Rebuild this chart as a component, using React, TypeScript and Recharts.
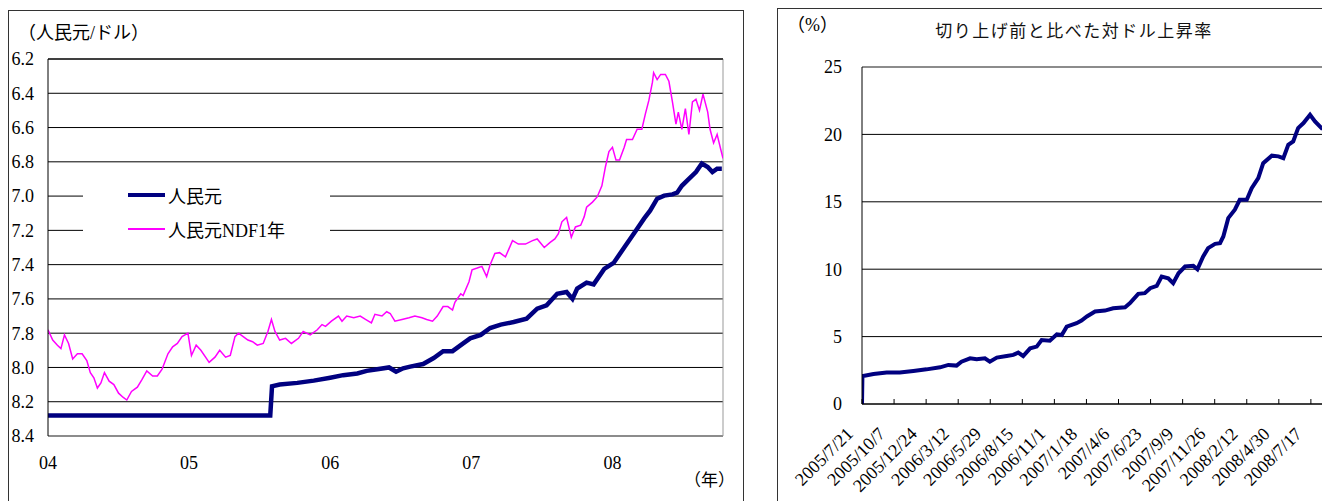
import { LineChart, Line, XAxis, YAxis, CartesianGrid, ReferenceLine } from 'recharts';

// 左グラフ：x は 2004年1月からの月数
const cnyMonth = [0, 6, 12, 18.9, 19.05, 19.7, 21.2, 22.6, 24.0, 25.1, 26.3, 27.1, 28.0, 29.0, 29.6, 30.2, 30.8, 31.9, 32.8, 33.6, 34.4, 35.1, 35.9, 36.8, 37.6, 38.5, 39.6, 40.7, 41.6, 42.4, 43.3, 44.1, 44.6, 45.0, 45.8, 46.4, 47.3, 48.1, 49.0, 49.5, 50.1, 50.7, 51.2, 51.8, 52.4, 53.1, 53.5, 53.9, 54.5, 55.1, 55.6, 56.1, 56.5, 56.9, 57.3];
const cnyRate = [8.28, 8.28, 8.28, 8.28, 8.11, 8.10, 8.09, 8.077, 8.06, 8.045, 8.035, 8.02, 8.01, 8.0, 8.025, 8.005, 7.995, 7.98, 7.945, 7.905, 7.905, 7.87, 7.83, 7.81, 7.77, 7.75, 7.735, 7.715, 7.657, 7.637, 7.57, 7.56, 7.60, 7.54, 7.505, 7.515, 7.425, 7.39, 7.30, 7.25, 7.19, 7.13, 7.085, 7.015, 6.997, 6.99, 6.98, 6.94, 6.90, 6.86, 6.81, 6.83, 6.86, 6.84, 6.84];

const ndfMonth = [0, 0.4, 0.8, 1.1, 1.4, 1.75, 2.1, 2.5, 2.9, 3.3, 3.6, 3.9, 4.2, 4.5, 4.8, 5.2, 5.6, 6.0, 6.4, 6.7, 7.1, 7.6, 8.0, 8.4, 8.9, 9.3, 9.7, 10.2, 10.6, 11.0, 11.4, 11.9, 12.2, 12.6, 13.0, 13.5, 13.7, 14.2, 14.6, 15.1, 15.5, 15.9, 16.2, 16.6, 17.0, 17.4, 17.8, 18.3, 18.7, 19.0, 19.3, 19.7, 20.2, 20.7, 21.3, 21.7, 22.3, 22.9, 23.3, 23.6, 24.1, 24.7, 25.0, 25.4, 26.0, 26.55, 27.0, 27.5, 27.8, 28.4, 28.8, 29.1, 29.5, 30.1, 30.7, 31.2, 31.8, 32.2, 32.7, 33.1, 33.6, 34.0, 34.4, 34.6, 35.1, 35.3, 35.8, 36.06, 36.5, 36.9, 37.3, 37.6, 38.0, 38.4, 38.9, 39.5, 40.0, 40.6, 41.2, 41.6, 42.2, 42.7, 43.1, 43.4, 43.7, 44.1, 44.5, 44.85, 45.3, 45.6, 45.8, 46.3, 46.7, 47.1, 47.4, 47.7, 48.0, 48.3, 48.6, 49.0, 49.2, 49.7, 50.1, 50.5, 50.8, 51.1, 51.4, 51.5, 51.8, 52.1, 52.5, 52.8, 53.1, 53.4, 53.6, 53.9, 54.2, 54.5, 54.8, 55.1, 55.4, 55.7, 56.1, 56.3, 56.6, 56.9, 57.2, 57.4];
const ndfRate = [7.78, 7.84, 7.87, 7.89, 7.81, 7.86, 7.95, 7.92, 7.92, 7.96, 8.03, 8.06, 8.12, 8.09, 8.03, 8.08, 8.10, 8.15, 8.175, 8.19, 8.14, 8.115, 8.07, 8.02, 8.05, 8.05, 8.01, 7.92, 7.88, 7.86, 7.82, 7.80, 7.93, 7.87, 7.90, 7.95, 7.97, 7.94, 7.90, 7.94, 7.93, 7.82, 7.80, 7.82, 7.84, 7.85, 7.87, 7.86, 7.79, 7.72, 7.79, 7.84, 7.83, 7.86, 7.83, 7.79, 7.81, 7.78, 7.75, 7.76, 7.73, 7.70, 7.73, 7.70, 7.71, 7.70, 7.72, 7.74, 7.69, 7.70, 7.675, 7.685, 7.73, 7.72, 7.71, 7.70, 7.71, 7.72, 7.73, 7.70, 7.645, 7.645, 7.665, 7.62, 7.57, 7.58, 7.50, 7.43, 7.42, 7.41, 7.47, 7.40, 7.335, 7.33, 7.355, 7.26, 7.28, 7.28, 7.26, 7.25, 7.30, 7.27, 7.25, 7.22, 7.15, 7.125, 7.24, 7.18, 7.17, 7.12, 7.065, 7.035, 7.005, 6.94, 6.83, 6.74, 6.715, 6.79, 6.79, 6.715, 6.67, 6.67, 6.61, 6.61, 6.52, 6.44, 6.335, 6.28, 6.32, 6.29, 6.29, 6.33, 6.45, 6.58, 6.51, 6.61, 6.49, 6.64, 6.45, 6.435, 6.50, 6.405, 6.51, 6.61, 6.69, 6.64, 6.725, 6.78];

const yearTicks = [0, 12, 24, 36, 48];
const yearLabels = ['04', '05', '06', '07', '08'];
const rateTicks = [6.2, 6.4, 6.6, 6.8, 7.0, 7.2, 7.4, 7.6, 7.8, 8.0, 8.2, 8.4];
const MONTH_MAX = 57.4;
// 上側の目盛り（ラベルなし）
const topTicks = Array.from({ length: 59 }, (_, i) => 0.34 + (i * (57.26 - 0.34)) / 58);

// 右グラフ：x は 2005/7/21 からの日数
const riseDay = [0, 1, 3, 28, 60, 92, 125, 157, 190, 210, 230, 242, 263, 279, 299, 311, 328, 352, 368, 380, 392, 409, 425, 437, 457, 474, 486, 498, 522, 534, 547, 567, 591, 611, 640, 652, 672, 688, 701, 717, 729, 745, 757, 770, 786, 806, 816, 830, 842, 859, 871, 879, 891, 907, 919, 936, 948, 964, 976, 997, 1013, 1025, 1037, 1049, 1061, 1074, 1090, 1102, 1118, 1136];
const risePct = [0, 2.08, 2.08, 2.23, 2.33, 2.33, 2.45, 2.57, 2.72, 2.90, 2.85, 3.14, 3.39, 3.32, 3.39, 3.14, 3.44, 3.56, 3.64, 3.81, 3.56, 4.13, 4.26, 4.75, 4.70, 5.17, 5.12, 5.74, 5.99, 6.19, 6.49, 6.86, 6.93, 7.10, 7.18, 7.48, 8.17, 8.22, 8.59, 8.76, 9.46, 9.33, 8.96, 9.70, 10.20, 10.25, 10.0, 10.94, 11.56, 11.88, 11.93, 12.43, 13.79, 14.41, 15.15, 15.15, 16.01, 16.76, 17.87, 18.42, 18.37, 18.24, 19.23, 19.48, 20.47, 20.84, 21.46, 20.97, 20.47, 20.7];

const dateTickDay = [0, 78, 156, 234, 312, 390, 468, 546, 624, 702, 780, 858, 936, 1014, 1092];
const dateTickLabels = ['2005/7/21', '2005/10/7', '2005/12/24', '2006/3/12', '2006/5/29', '2006/8/15', '2006/11/1', '2007/1/18', '2007/4/6', '2007/6/23', '2007/9/9', '2007/11/26', '2008/2/12', '2008/4/30', '2008/7/17'];
const pctTicks = [0, 5, 10, 15, 20, 25];
const DAY_MAX = 1175;

const cnyData = cnyMonth.map((m, i) => ({ m, v: cnyRate[i] }));
const ndfData = ndfMonth.map((m, i) => ({ m, v: ndfRate[i] }));
const riseData = riseDay.map((d, i) => ({ d, v: risePct[i] }));

const CNY_COLOR = '#000080';
const NDF_COLOR = '#ff00ff';
const SERIF = "'Liberation Serif', 'Times New Roman', 'DejaVu Serif', serif";
const SERIF_JP = "'Liberation Serif', 'Times New Roman', 'Noto Sans CJK JP', serif";
const SANS = "'Noto Sans CJK JP', sans-serif";
const tickFont = { fontSize: 18, fill: '#000', fontFamily: SERIF };

const TopTick = (props: any) => {
  const { x, y } = props;
  return <line x1={x} y1={y} x2={x} y2={y + 4} stroke="#000" strokeWidth={1} />;
};

const DateTick = (props: any) => {
  const { x, y, payload } = props;
  const idx = dateTickDay.indexOf(payload.value);
  const tx = x - 8;
  const ty = y + 31;
  return (
    <g>
      <line x1={x} y1={y} x2={x} y2={y - 5} stroke="#000" strokeWidth={1} />
      <text x={tx} y={ty} transform={`rotate(-45 ${tx} ${ty})`} textAnchor="end" fontSize={18} fill="#000" style={{ fontFamily: SERIF }}>
        {dateTickLabels[idx]}
      </text>
    </g>
  );
};

const abs = (left: number, top: number, extra: any = {}) => ({ position: 'absolute' as const, left, top, ...extra });

export default function App() {
  return (
    <div style={{ position: 'absolute', left: 0, top: 0, width: 1322, height: 501, overflow: 'hidden', background: '#fff', fontFamily: SERIF_JP, color: '#000' }}>
      {/* 左の枠 */}
      <div style={abs(8, 10, { width: 734, height: 520, border: '1px solid #333' })} />
      <div style={abs(0, 0)}>
        <LineChart width={745} height={501} margin={{ top: 49, right: 22, bottom: 25, left: 8 }}>
          <CartesianGrid xAxisId="bottom" vertical={false} stroke="#000" />
          <XAxis
            xAxisId="top"
            orientation="top"
            type="number"
            domain={[0, MONTH_MAX]}
            allowDataOverflow
            ticks={topTicks}
            interval={0}
            height={10}
            tickSize={0}
            tickMargin={0}
            tickLine={false}
            axisLine={{ stroke: '#000' }}
            tick={TopTick}
          />
          <XAxis
            xAxisId="bottom"
            dataKey="m"
            type="number"
            domain={[0, MONTH_MAX]}
            allowDataOverflow
            ticks={yearTicks}
            interval={0}
            height={40}
            tickSize={0}
            tickMargin={20}
            tickLine={false}
            axisLine={{ stroke: '#999' }}
            tickFormatter={(v: number) => yearLabels[yearTicks.indexOf(v)]}
            tick={tickFont}
          />
          <YAxis
            domain={[6.2, 8.4]}
            reversed
            ticks={rateTicks}
            interval={0}
            width={40}
            tickSize={0}
            tickMargin={14}
            tickLine={false}
            axisLine={{ stroke: '#000' }}
            tickFormatter={(v: number) => v.toFixed(1)}
            tick={tickFont}
          />
          <ReferenceLine xAxisId="bottom" x={MONTH_MAX} stroke="#999" />
          <Line xAxisId="bottom" data={ndfData} dataKey="v" stroke={NDF_COLOR} strokeWidth={1.5} dot={false} isAnimationActive={false} />
          <Line xAxisId="bottom" data={cnyData} dataKey="v" stroke={CNY_COLOR} strokeWidth={4.5} dot={false} isAnimationActive={false} />
        </LineChart>
      </div>
      <div style={abs(18, 23, { fontSize: 18, lineHeight: '20px', whiteSpace: 'nowrap' })}>（人民元/ドル）</div>
      <div style={abs(684, 471, { fontSize: 17, lineHeight: '20px', whiteSpace: 'nowrap' })}>（年）</div>
      {/* 凡例 */}
      <div style={abs(83, 178, { width: 247, height: 68, background: '#fff', fontSize: 18 })}>
        <div style={abs(45, 7, { display: 'flex', alignItems: 'center', height: 20 })}>
          <span style={{ display: 'inline-block', width: 37, height: 4, background: CNY_COLOR, marginRight: 3 }} />
          <span>人民元</span>
        </div>
        <div style={abs(45, 41, { display: 'flex', alignItems: 'center', height: 20, whiteSpace: 'nowrap' })}>
          <span style={{ display: 'inline-block', width: 37, height: 1.5, background: NDF_COLOR, marginRight: 3 }} />
          <span>人民元NDF1年</span>
        </div>
      </div>

      {/* 右の枠 */}
      <div style={abs(777, 8, { width: 700, height: 520, border: '1px solid #333' })} />
      <div style={abs(770, 0)}>
        <LineChart width={600} height={501} margin={{ top: 67, right: 25, bottom: 7, left: 32 }}>
          <CartesianGrid vertical={false} stroke="#000" />
          <XAxis
            dataKey="d"
            type="number"
            domain={[0, DAY_MAX]}
            allowDataOverflow
            ticks={dateTickDay}
            interval={0}
            height={90}
            tickSize={0}
            tickMargin={0}
            tickLine={false}
            axisLine={{ stroke: '#000' }}
            tick={DateTick}
          />
          <YAxis
            domain={[0, 25]}
            ticks={pctTicks}
            interval={0}
            width={60}
            tickSize={0}
            tickMargin={20}
            tickLine={false}
            axisLine={{ stroke: '#000' }}
            tick={tickFont}
          />
          <ReferenceLine y={25} stroke="#999" />
          <Line data={riseData} dataKey="v" stroke={CNY_COLOR} strokeWidth={4} dot={false} isAnimationActive={false} />
        </LineChart>
      </div>
      <div style={abs(787, 15, { fontSize: 18, lineHeight: '20px', whiteSpace: 'nowrap' })}>（%）</div>
      <div style={abs(874, 19, { width: 400, textAlign: 'center', fontFamily: SANS, fontSize: 17, lineHeight: '22px', letterSpacing: 1.5, color: '#111' })}>
        切り上げ前と比べた対ドル上昇率
      </div>
    </div>
  );
}
